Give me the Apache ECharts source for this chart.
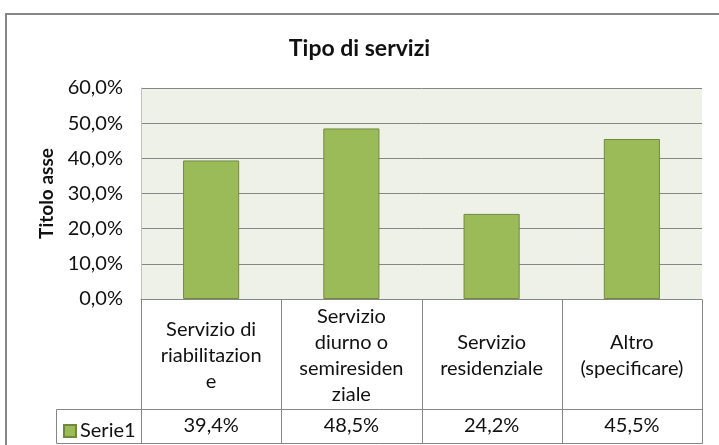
<!DOCTYPE html>
<html>
<head>
<meta charset="utf-8">
<script src="https://cdn.jsdelivr.net/npm/echarts@6/dist/echarts.min.js"></script>
<style>
html, body { margin: 0; padding: 0; background: #fff; }
#chart { width: 719px; height: 445px; }
</style>
</head>
<body>
<div id="chart"></div>
<script>
// dati
const categories = [
    'Servizio di\nriabilitazion\ne',
    'Servizio\ndiurno o\nsemiresiden\nziale',
    'Servizio\nresidenziale',
    'Altro\n(specificare)'
];
const serie1 = [0.394, 0.485, 0.242, 0.455];
const yMin = 0, yMax = 0.6, yStep = 0.1;

const fmt = v => (v * 100).toFixed(1).replace('.', ',') + '%';
const lineColor = '#868686';
const txt = '#111';

let myChart = echarts.init(document.getElementById('chart'));

let option = {
    backgroundColor: '#fff',
    animation: false,
    textStyle: { fontFamily: 'Lato' },
    title: {
        text: 'Tipo di servizi',
        left: 'center',
        top: 32,
        textStyle: { fontSize: 23, fontWeight: 'bold', color: txt, fontFamily: 'Lato' }
    },
    legend: {
        data: ['Serie1'],
        left: 58,
        top: 416,
        icon: 'rect',
        itemWidth: 12,
        itemHeight: 12,
        itemGap: 5,
        textStyle: { fontSize: 20, color: txt, padding: [0, 0, 0, -1] }
    },
    grid: {
        left: 141,
        right: 17,
        top: 88,
        bottom: 146,
        show: true,
        backgroundColor: '#EEF1E8',
        borderWidth: 0
    },
    xAxis: [
        {
            type: 'category',
            data: categories,
            axisTick: { show: false },
            axisLine: { lineStyle: { color: lineColor } },
            axisLabel: {
                interval: 0,
                margin: 57,
                verticalAlign: 'middle',
                lineHeight: 26,
                fontSize: 20,
                color: txt
            }
        },
        {
            type: 'category',
            position: 'bottom',
            data: categories,
            axisTick: { show: false },
            axisLine: { show: false },
            axisLabel: {
                interval: 0,
                margin: 127,
                verticalAlign: 'middle',
                fontSize: 20,
                color: txt,
                formatter: (v, i) => fmt(serie1[i])
            }
        }
    ],
    yAxis: {
        type: 'value',
        min: yMin,
        max: yMax,
        interval: yStep,
        name: 'Titolo asse',
        nameLocation: 'middle',
        nameGap: 82,
        nameRotate: 90,
        nameTextStyle: { fontSize: 19, fontWeight: 'bold', color: txt },
        axisLine: { show: true, lineStyle: { color: '#BFBFBF' } },
        axisLabel: { formatter: fmt, margin: 18, fontSize: 20, color: txt },
        splitLine: { lineStyle: { color: lineColor } }
    },
    series: [
        {
            name: 'Serie1',
            type: 'bar',
            xAxisIndex: 0,
            data: serie1,
            barWidth: '40%',
            itemStyle: { color: '#9BBB59', borderColor: '#71893F', borderWidth: 1 }
        }
    ]
};

myChart.setOption(option);

// tabella dati sotto il grafico
const c0 = myChart.convertToPixel({ xAxisIndex: 0 }, 0);
const c1 = myChart.convertToPixel({ xAxisIndex: 0 }, 1);
const band = c1 - c0;
const y0 = Math.round(myChart.convertToPixel({ yAxisIndex: 0 }, yMin)) + 0.5;
const y1 = y0 + 110;
const y2 = y0 + 144;
const xL = 56.5;
let lines = [];
for (let i = 0; i <= categories.length; i++) {
    let x = Math.round(c0 - band / 2 + i * band) + 0.5;
    lines.push({ type: 'line', shape: { x1: x, y1: y0, x2: x, y2: y2 }, style: { stroke: lineColor, lineWidth: 1 } });
}
const xR = Math.round(c0 - band / 2 + categories.length * band) + 0.5;
lines.push({ type: 'line', shape: { x1: xL, y1: y1, x2: xR, y2: y1 }, style: { stroke: lineColor, lineWidth: 1 } });
lines.push({ type: 'line', shape: { x1: xL, y1: y2, x2: xR, y2: y2 }, style: { stroke: lineColor, lineWidth: 1 } });
lines.push({ type: 'line', shape: { x1: xL, y1: y1, x2: xL, y2: y2 }, style: { stroke: lineColor, lineWidth: 1 } });
// bordo esterno
lines.push({ type: 'rect', shape: { x: 6, y: 14, width: 800, height: 800 }, style: { fill: 'none', stroke: lineColor, lineWidth: 2 }, z: 100 });

myChart.setOption({ graphic: lines });
</script>
</body>
</html>
